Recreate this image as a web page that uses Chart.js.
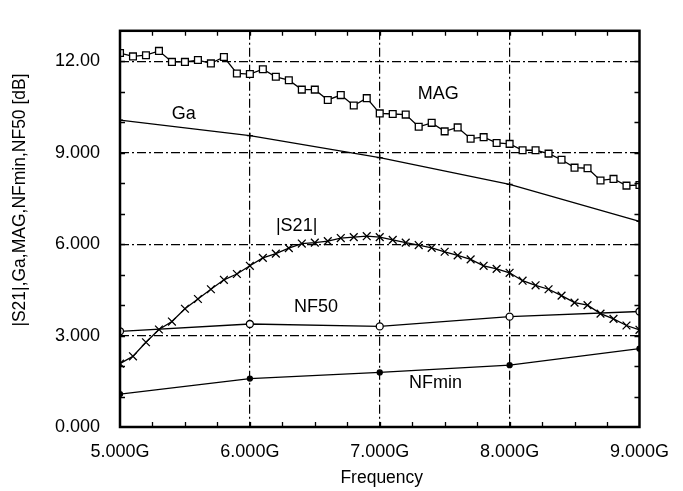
<!DOCTYPE html>
<html>
<head>
<meta charset="utf-8">
<script src="https://cdn.jsdelivr.net/npm/chart.js@4/dist/chart.umd.min.js"></script>
<style>
  html, body { margin: 0; padding: 0; background: #fff; }
  canvas { display: block; }
</style>
</head>
<body>
<canvas id="chart" width="683" height="491"></canvas>
<script>
// frequency points (GHz)
const freqFine = [5.0, 5.1, 5.2, 5.3, 5.4, 5.5, 5.6, 5.7, 5.8, 5.9,
  6.0, 6.1, 6.2, 6.3, 6.4, 6.5, 6.6, 6.7, 6.8, 6.9,
  7.0, 7.1, 7.2, 7.3, 7.4, 7.5, 7.6, 7.7, 7.8, 7.9,
  8.0, 8.1, 8.2, 8.3, 8.4, 8.5, 8.6, 8.7, 8.8, 8.9, 9.0]
const freqCoarse = [5, 6, 7, 8, 9]

// series values (dB)
const mag = [12.27, 12.16, 12.20, 12.34, 11.98, 11.98, 12.04, 11.93, 12.14, 11.60,
  11.58, 11.74, 11.49, 11.38, 11.07, 11.07, 10.73, 10.89, 10.55, 10.79,
  10.29, 10.27, 10.25, 9.85, 9.98, 9.70, 9.83, 9.46, 9.51, 9.32,
  9.29, 9.08, 9.08, 8.97, 8.77, 8.51, 8.49, 8.09, 8.14, 7.92, 7.94]
const s21 = [2.08, 2.32, 2.78, 3.20, 3.46, 3.88, 4.20, 4.52, 4.83, 5.02,
  5.29, 5.55, 5.69, 5.87, 6.02, 6.05, 6.10, 6.20, 6.23, 6.26,
  6.23, 6.14, 6.05, 5.97, 5.88, 5.75, 5.63, 5.50, 5.29, 5.19,
  5.06, 4.80, 4.65, 4.52, 4.31, 4.08, 4.00, 3.72, 3.55, 3.33, 3.19]
const ga = [10.07, 9.56, 8.84, 7.96, 6.75]
const nf50 = [3.14, 3.38, 3.30, 3.62, 3.79]
const nfmin = [1.08, 1.59, 1.79, 2.03, 2.57]

// ticks
const xTickValues = [5, 6, 7, 8, 9]
const xTickLabels = ['5.000G', '6.000G', '7.000G', '8.000G', '9.000G']
const yTickValues = [0, 3, 6, 9, 12]
const yTickLabels = ['0.000', '3.000', '6.000', '9.000', '12.00']

// curve names written on the plot, with their data positions
const curveNames = ['MAG', 'Ga', '|S21|', 'NF50', 'NFmin']
const nameX = [7.45, 5.49, 6.36, 6.51, 7.43]
const nameY = [10.94, 10.26, 6.59, 3.92, 1.43]

const FONT = '"Liberation Sans", Arial, sans-serif'

const pts = (xs, ys) => xs.map((x, i) => ({x: x, y: ys[i]}))

const frame = {
  id: 'frame',
  afterDraw(chart) {
    const {ctx, chartArea: a, scales: {x, y}} = chart
    ctx.save()
    ctx.strokeStyle = '#000'
    // inward minor ticks
    ctx.lineWidth = 1.3
    ctx.beginPath()
    for (let v = 5.25; v < 9; v += 0.25) {
      const px = Math.round(x.getPixelForValue(v)) + 0.5
      ctx.moveTo(px, a.bottom); ctx.lineTo(px, a.bottom - 5)
      ctx.moveTo(px, a.top); ctx.lineTo(px, a.top + 5)
    }
    for (let v = 1; v < 13; v++) {
      const py = Math.round(y.getPixelForValue(v)) + 0.5
      ctx.moveTo(a.left, py); ctx.lineTo(a.left + 5, py)
      ctx.moveTo(a.right, py); ctx.lineTo(a.right - 5, py)
    }
    ctx.stroke()
    // box
    ctx.lineWidth = 2.5
    ctx.strokeRect(a.left, a.top, a.right - a.left, a.bottom - a.top)

    // curve names
    ctx.fillStyle = '#000'
    ctx.font = '18px ' + FONT
    ctx.textAlign = 'center'
    ctx.textBaseline = 'middle'
    curveNames.forEach((n, i) => {
      ctx.fillText(n, x.getPixelForValue(nameX[i]), y.getPixelForValue(nameY[i]))
    })

    // axis titles
    ctx.font = '17.5px ' + FONT
    ctx.textBaseline = 'alphabetic'
    ctx.fillText('Frequency', (a.left + a.right) / 2 + 2, 483)
    ctx.translate(25, 200)
    ctx.rotate(-Math.PI / 2)
    ctx.fillText('|S21|,Ga,MAG,NFmin,NF50 [dB]', 0, 0)
    ctx.restore()
  }
}

const line = (data, style, radius, fill) => ({
  data: data,
  borderColor: '#000',
  borderWidth: 1.3,
  pointStyle: style,
  pointRadius: radius,
  pointBorderColor: '#000',
  pointBorderWidth: 1.3,
  pointBackgroundColor: fill,
  tension: 0
})

new Chart(document.getElementById('chart'), {
  type: 'line',
  data: {
    datasets: [
      line(pts(freqFine, mag), 'rect', 4.8, '#fff'),
      line(pts(freqFine, s21), 'crossRot', 5.5, '#000'),
      line(pts(freqCoarse, ga), 'cross', 3, '#000'),
      line(pts(freqCoarse, nf50), 'circle', 3.5, '#fff'),
      line(pts(freqCoarse, nfmin), 'circle', 2.5, '#000')
    ]
  },
  options: {
    responsive: false,
    animation: false,
    layout: {padding: {top: 10, right: 35, left: 0, bottom: 0}},
    plugins: {legend: {display: false}, tooltip: {enabled: false}},
    scales: {
      x: {
        type: 'linear',
        min: 5,
        max: 9,
        afterFit: s => { s.height = 64 },
        afterBuildTicks: s => { s.ticks = xTickValues.map(v => ({value: v})) },
        grid: {
          drawTicks: false,
          color: c => (c.tick && c.tick.value > 5 && c.tick.value < 9) ? '#000' : 'rgba(0,0,0,0)',
          lineWidth: 1.2
        },
        border: {display: false, dash: [9, 3, 2, 3]},
        ticks: {
          padding: 14,
          color: '#000',
          font: {family: FONT, size: 18},
          callback: v => xTickLabels[xTickValues.indexOf(v)]
        }
      },
      y: {
        min: 0,
        max: 13,
        afterFit: s => { s.width = 120 },
        afterBuildTicks: s => { s.ticks = yTickValues.map(v => ({value: v})) },
        grid: {
          drawTicks: false,
          color: c => (c.tick && c.tick.value > 0) ? '#000' : 'rgba(0,0,0,0)',
          lineWidth: 1.2
        },
        border: {display: false, dash: [9, 3, 2, 3]},
        ticks: {
          padding: 20,
          color: '#000',
          font: {family: FONT, size: 18},
          callback: v => yTickLabels[yTickValues.indexOf(v)]
        }
      }
    }
  },
  plugins: [frame]
})
</script>
</body>
</html>
